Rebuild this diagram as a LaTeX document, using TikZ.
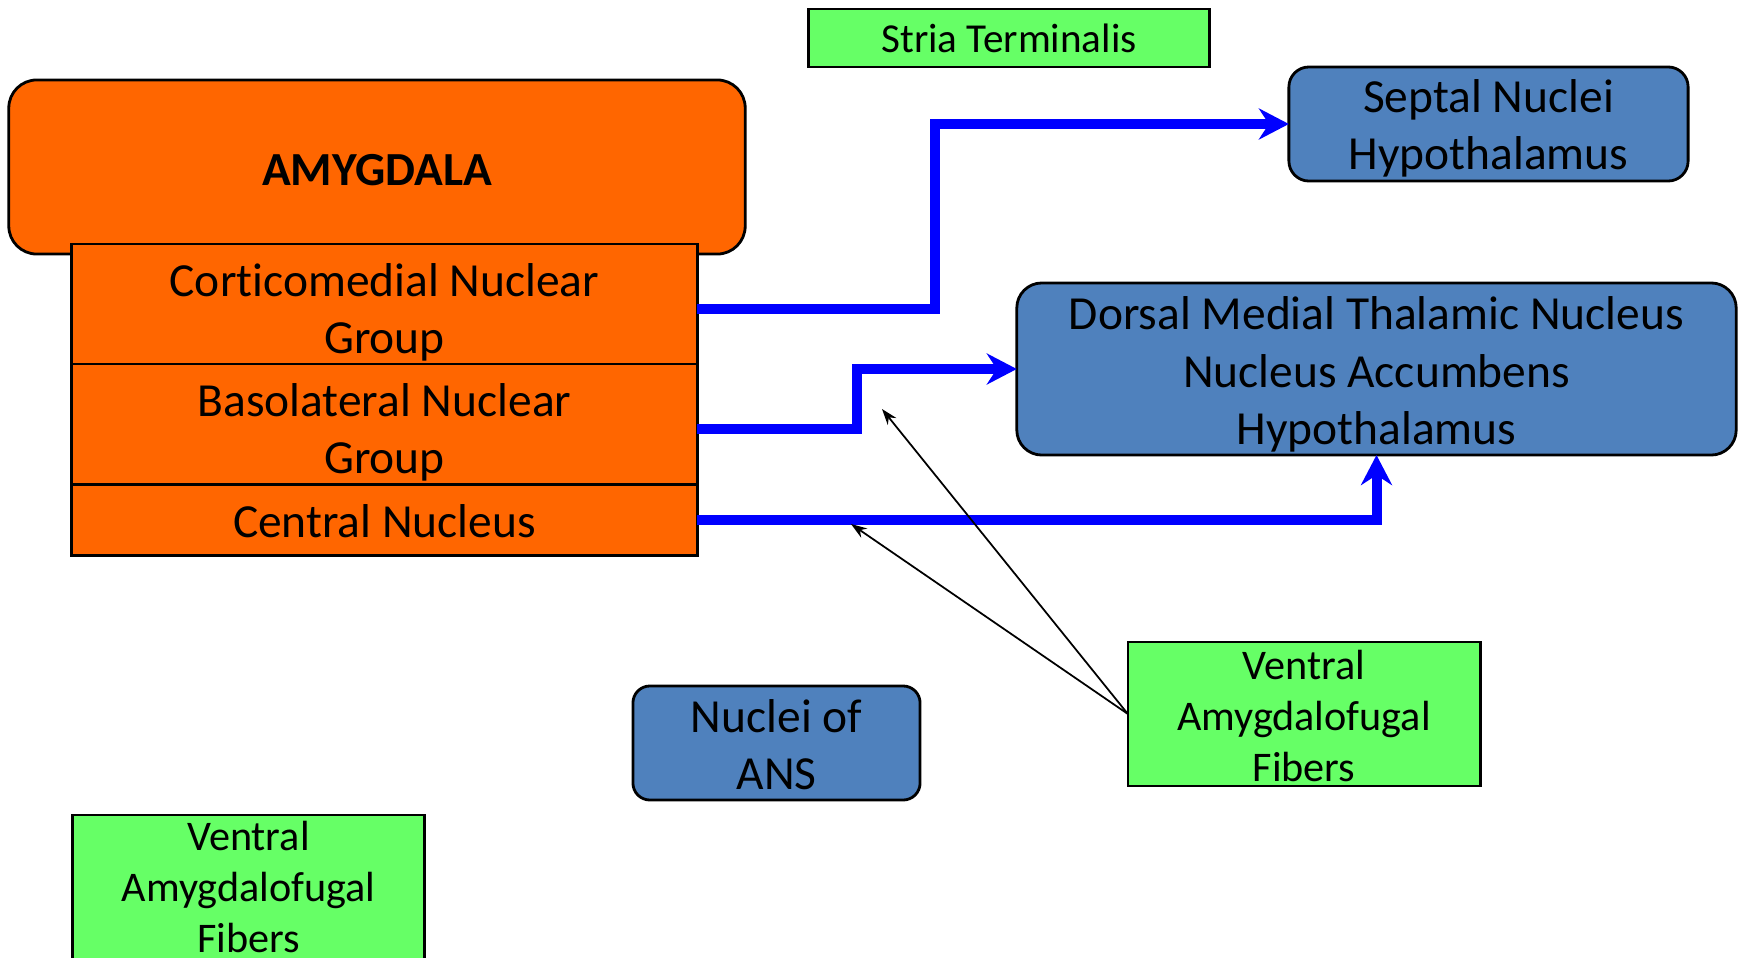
\documentclass[tikz,border=0pt]{standalone}
\usepackage{fontspec}
\setmainfont{Carlito}[Ligatures=NoCommon]
\usetikzlibrary{arrows.meta,positioning}
\definecolor{amyorange}{HTML}{FF6600}
\definecolor{fibgreen}{HTML}{66FF66}
\definecolor{nucblue}{HTML}{4F81BD}
\definecolor{tractblue}{HTML}{0000FF}

\begin{document}
\begin{tikzpicture}[
  x=0.01cm, y=-0.01cm,
  box/.style={draw, line width=0.8pt, inner sep=0pt, outer sep=0pt},
  lbl/.style={align=center, inner sep=0pt, font=\fontsize{13.5}{16.3}\selectfont},
  nucleus/.style={box, fill=amyorange, minimum width=6.25cm},
  target/.style={box, fill=nucblue, rounded corners=0.2cm},
  fiber/.style={box, fill=fibgreen, minimum width=3.52cm, minimum height=1.44cm},
  fiblbl/.style={lbl, font=\fontsize{12}{14.4}\selectfont},
  tract/.style={-{Stealth[length=0.3cm, width=0.31cm, inset=0.1cm]}, tractblue, line width=0.1cm},
  link/.style={-{Stealth[length=0.16cm, width=0.11cm]}, line width=0.5pt}
]
  \useasboundingbox (0,0) rectangle (1745,957);

  % amygdala and its nuclear groups
  \node[box, fill=amyorange, rounded corners=0.28cm, minimum width=7.36cm, minimum height=1.74cm,
    label={[lbl, font=\fontsize{13.5}{16.3}\selectfont\bfseries, yshift=-0.03cm]center:AMYGDALA}] (amyg) at (377,167) {};
  \node[nucleus, minimum height=1.2cm,
    label={[lbl, yshift=-0.08cm]center:{Corticomedial Nuclear\\Group}}] (cortico) at (384.5,304) {};
  \node[nucleus, minimum height=1.2cm, below=0pt of cortico,
    label={[lbl, yshift=-0.08cm]center:{Basolateral Nuclear\\Group}}] (baso) {};
  \node[nucleus, minimum height=0.71cm, below=0pt of baso,
    label={[lbl, yshift=-0.02cm]center:Central Nucleus}] (central) {};

  % targets
  \node[box, fill=fibgreen, minimum width=4cm, minimum height=0.58cm,
    label={[lbl, font=\fontsize{11.7}{14}\selectfont]center:Stria Terminalis}] (stria) at (1009,38) {};
  \node[target, minimum width=3.99cm, minimum height=1.14cm,
    label={[lbl, yshift=-0.045cm]center:{Septal Nuclei\\Hypothalamus}}] (septal) at (1488.5,124) {};
  \node[target, rounded corners=0.25cm, minimum width=7.19cm, minimum height=1.72cm,
    label={[lbl, yshift=-0.055cm]center:{Dorsal Medial Thalamic Nucleus\\Nucleus Accumbens\\Hypothalamus}}] (dorsal) at (1376.5,369) {};
  \node[target, rounded corners=0.17cm, minimum width=2.87cm, minimum height=1.14cm,
    label={[lbl, yshift=-0.02cm]center:{Nuclei of\\ANS}}] (ans) at (776.5,743) {};

  % fibre labels
  \node[fiber, label={[fiblbl, yshift=-0.02cm]center:{Ventral\\Amygdalofugal\\Fibers}}] (vafR) at (1304,714) {};
  \node[fiber, label={[fiblbl]center:{Ventral\\Amygdalofugal\\Fibers}}] (vafL) at (248.5,887) {};

  \coordinate (tipA) at (882,409);
  \coordinate (tipB) at (851,524);

  \draw[tract] ([yshift=-0.05cm]cortico.east) -- ++(238,0) |- (septal.west);
  \draw[tract] ([yshift=-0.045cm]baso.east) -- ++(160,0) |- (dorsal.west);
  \draw[tract] (central.east) -| (dorsal.south);

  \draw[link] (vafR.west) -- (tipA);
  \draw[link] (vafR.west) -- (tipB);
\end{tikzpicture}
\end{document}
